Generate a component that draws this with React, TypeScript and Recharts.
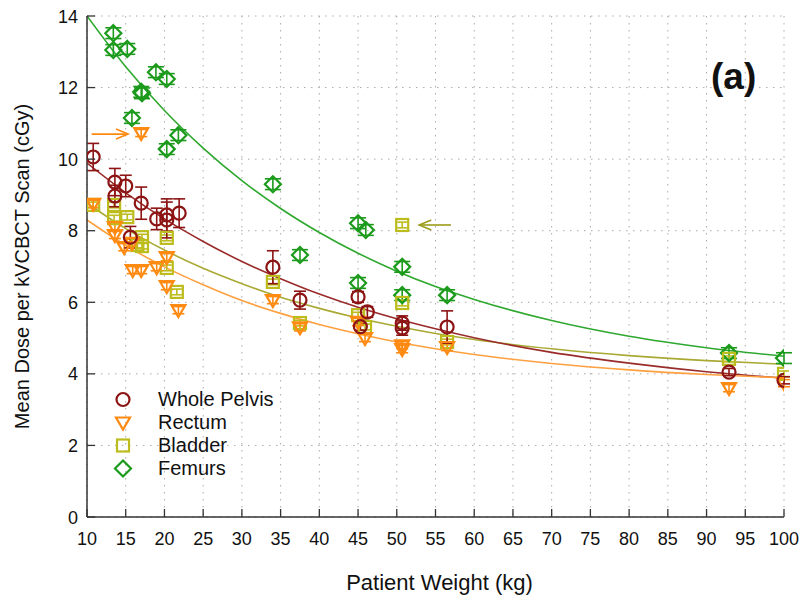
import { ComposedChart, Line, Scatter, ErrorBar, XAxis, YAxis, CartesianGrid, ReferenceLine } from 'recharts'

document.body.style.margin = '0'

const FONT = '"Liberation Sans", Arial, sans-serif'

const xTicks = [10, 15, 20, 25, 30, 35, 40, 45, 50, 55, 60, 65, 70, 75, 80, 85, 90, 95, 100]
const yTicks = [0, 2, 4, 6, 8, 10, 12, 14]

// measured points: [weight kg, dose cGy, error]
const pelvisPts = [
  [10.8, 10.06, 0.38], [13.6, 9.36, 0.38], [13.6, 8.97, 0.3], [15.0, 9.25, 0.3], [15.6, 7.82, 0.3],
  [17.0, 8.77, 0.45], [19.0, 8.33, 0.3], [20.3, 8.44, 0.45], [20.3, 8.3, 0.5], [21.9, 8.49, 0.4],
  [34.0, 6.98, 0.46], [37.5, 6.06, 0.25], [45.0, 6.15, 0.15], [45.3, 5.32, 0.1], [46.2, 5.73, 0.15],
  [50.7, 5.42, 0.2], [50.7, 5.28, 0.2], [56.5, 5.31, 0.45], [92.9, 4.05, 0.1], [100, 3.82, 0.1],
]
const rectumPts = [
  [10.8, 8.75, 0.1], [13.6, 8.1, 0.1], [13.6, 7.88, 0.1], [14.8, 7.54, 0.1], [15.8, 7.66, 0.1],
  [15.9, 6.9, 0.1], [17.0, 6.9, 0.1], [17.0, 10.73, 0.1], [19.0, 6.98, 0.1], [20.3, 7.26, 0.1],
  [20.3, 6.45, 0.1], [21.8, 5.78, 0.1], [34.0, 6.06, 0.1], [37.5, 5.3, 0.1], [45.0, 5.45, 0.1],
  [45.9, 5.0, 0.1], [50.7, 4.69, 0.1], [50.7, 4.8, 0.1], [56.5, 4.75, 0.1], [92.9, 3.6, 0.1], [100, 3.74, 0.1],
]
const bladderPts = [
  [10.8, 8.72, 0.08], [13.5, 8.72, 0.08], [13.5, 8.35, 0.08], [15.2, 8.38, 0.08], [16.5, 7.6, 0.08],
  [17.1, 7.82, 0.08], [17.1, 7.57, 0.08], [20.3, 7.8, 0.08], [20.3, 6.96, 0.08], [21.6, 6.29, 0.08],
  [34.0, 6.57, 0.08], [37.5, 5.42, 0.08], [45.0, 5.64, 0.08], [45.9, 5.31, 0.08], [50.7, 5.98, 0.08],
  [50.7, 8.16, 0.08], [56.5, 4.89, 0.08], [92.9, 4.42, 0.08], [100, 4.0, 0.08],
]
const femurPts = [
  [13.4, 13.52, 0.15], [13.4, 13.05, 0.15], [15.2, 13.08, 0.15], [15.8, 11.15, 0.15], [17.0, 11.88, 0.15],
  [17.1, 11.84, 0.15], [18.9, 12.43, 0.15], [20.3, 12.24, 0.15], [20.3, 10.28, 0.15], [21.8, 10.67, 0.15],
  [34.0, 9.3, 0.15], [37.5, 7.32, 0.15], [45.0, 8.21, 0.15], [46.0, 8.02, 0.15], [45.0, 6.54, 0.15],
  [50.7, 6.99, 0.15], [50.7, 6.2, 0.15], [56.5, 6.2, 0.15], [92.9, 4.58, 0.15], [100, 4.44, 0.15],
]

// fitted curves, sampled along the weight axis
const fitX = [10, 15, 20, 25, 30, 35, 40, 45, 50, 55, 60, 70, 80, 90, 100]
const pelvisFit = [9.89, 9.06, 8.33, 7.7, 7.14, 6.66, 6.23, 5.86, 5.54, 5.26, 5.01, 4.6, 4.3, 4.06, 3.88]
const rectumFit = [8.3, 7.59, 6.99, 6.49, 6.05, 5.69, 5.38, 5.12, 4.89, 4.7, 4.54, 4.29, 4.11, 3.98, 3.89]
const bladderFit = [8.77, 8.06, 7.46, 6.95, 6.52, 6.14, 5.83, 5.56, 5.33, 5.13, 4.96, 4.7, 4.51, 4.37, 4.27]
const femurFit = [14.0, 12.58, 11.36, 10.31, 9.4, 8.62, 7.95, 7.37, 6.87, 6.44, 6.08, 5.49, 5.05, 4.73, 4.49]

const C = {
  pelvis: '#8c1414', pelvisLine: '#9a2b2b',
  rectum: '#ff8a12', rectumLine: '#ffa040',
  bladder: '#bcbc1c', bladderLine: '#a9a934',
  femur: '#1c9a1c', femurLine: '#2ea82e',
}

const toPts = (pts: number[][]) => pts.map(([x, y, e]) => ({ x, y, e }))
const toFit = (ys: number[]) => fitX.map((x, i) => ({ x, y: ys[i] }))

const circle = (color: string) => (p: any) => (
  <circle cx={p.cx} cy={p.cy} r={6.5} fill="none" stroke={color} strokeWidth={2.2} />
)
const triDown = (color: string) => (p: any) => (
  <path d={`M${p.cx - 7},${p.cy - 5} L${p.cx + 7},${p.cy - 5} L${p.cx},${p.cy + 7} Z`} fill="none" stroke={color} strokeWidth={2.2} strokeLinejoin="miter" />
)
const square = (color: string) => (p: any) => (
  <rect x={p.cx - 6} y={p.cy - 6} width={12} height={12} fill="none" stroke={color} strokeWidth={2.2} />
)
const diamond = (color: string) => (p: any) => (
  <path d={`M${p.cx},${p.cy - 8} L${p.cx + 8},${p.cy} L${p.cx},${p.cy + 8} L${p.cx - 8},${p.cy} Z`} fill="none" stroke={color} strokeWidth={2.2} />
)

const arrow = (color: string) => (p: any) => {
  const { x1, y1, x2, y2 } = p
  const d = Math.sign(x2 - x1)
  return (
    <g>
      <line x1={x1} y1={y1} x2={x2} y2={y2} stroke={color} strokeWidth={1.6} />
      <polyline points={`${x2 - d * 12},${y2 - 5} ${x2},${y2} ${x2 - d * 12},${y2 + 5}`} fill="none" stroke={color} strokeWidth={1.6} />
    </g>
  )
}

const AX = '#333'

function BottomTick({ x, y, payload }: any) {
  return (
    <g>
      <line x1={x} y1={y} x2={x} y2={y - 8} stroke={AX} strokeWidth={1.3} />
      <text x={x} y={y + 28} textAnchor="middle" fontSize={18} fontFamily={FONT} fill="#111">{payload.value}</text>
    </g>
  )
}
function TopTick({ x, y }: any) {
  return <line x1={x} y1={y} x2={x} y2={y + 8} stroke={AX} strokeWidth={1.3} />
}
function LeftTick({ x, y, payload }: any) {
  return (
    <g>
      <line x1={x} y1={y} x2={x + 8} y2={y} stroke={AX} strokeWidth={1.3} />
      <text x={x - 9} y={y + 6.5} textAnchor="end" fontSize={18} fontFamily={FONT} fill="#111">{payload.value}</text>
    </g>
  )
}
function RightTick({ x, y }: any) {
  return <line x1={x} y1={y} x2={x - 8} y2={y} stroke={AX} strokeWidth={1.3} />
}

const legendItems = [
  { name: 'Whole Pelvis', color: C.pelvis, mark: circle },
  { name: 'Rectum', color: C.rectum, mark: triDown },
  { name: 'Bladder', color: C.bladder, mark: square },
  { name: 'Femurs', color: C.femur, mark: diamond },
]

export default function App() {
  return (
    <div style={{ position: 'relative', width: 801, height: 597, background: '#fff', fontFamily: FONT }}>
      <ComposedChart width={801} height={597} margin={{ top: 16, right: 17, bottom: 40, left: 40 }}>
        <CartesianGrid stroke="#aaa" strokeDasharray="1.5 5.5" />
        <XAxis
          dataKey="x" type="number" domain={[10, 100]} ticks={xTicks} allowDataOverflow
          height={40} tickSize={0} tickMargin={0} tick={<BottomTick />}
          axisLine={{ stroke: AX, strokeWidth: 1.5 }}
          label={{
            content: (p: any) => (
              <text x={p.viewBox.x + p.viewBox.width / 2 + 4} y={p.viewBox.y + 73} textAnchor="middle" fontSize={22} fontFamily={FONT} fill="#111">
                Patient Weight (kg)
              </text>
            ),
          }}
        />
        <XAxis
          xAxisId="top" orientation="top" type="number" domain={[10, 100]} ticks={xTicks} allowDataOverflow
          height={0} tickSize={0} tickMargin={0} tick={<TopTick />} axisLine={{ stroke: AX, strokeWidth: 1.5 }}
        />
        <YAxis
          dataKey="y" type="number" domain={[0, 14]} ticks={yTicks} allowDataOverflow
          width={47} tickSize={0} tickMargin={0} tick={<LeftTick />}
          axisLine={{ stroke: AX, strokeWidth: 1.5 }}
          label={{
            content: (p: any) => {
              const cy = p.viewBox.y + p.viewBox.height / 2
              return (
                <text x={22} y={cy} transform={`rotate(-90, 22, ${cy})`} textAnchor="middle" dominantBaseline="central" fontSize={20} fontFamily={FONT} fill="#111">
                  Mean Dose per kVCBCT Scan (cGy)
                </text>
              )
            },
          }}
        />
        <YAxis
          yAxisId="right" orientation="right" type="number" domain={[0, 14]} ticks={yTicks} allowDataOverflow
          width={0} tickSize={0} tickMargin={0} tick={<RightTick />} axisLine={{ stroke: AX, strokeWidth: 1.5 }}
        />

        <Line data={toFit(femurFit)} dataKey="y" type="monotone" stroke={C.femurLine} strokeWidth={1.6} dot={false} isAnimationActive={false} />
        <Line data={toFit(bladderFit)} dataKey="y" type="monotone" stroke={C.bladderLine} strokeWidth={1.6} dot={false} isAnimationActive={false} />
        <Line data={toFit(pelvisFit)} dataKey="y" type="monotone" stroke={C.pelvisLine} strokeWidth={1.6} dot={false} isAnimationActive={false} />
        <Line data={toFit(rectumFit)} dataKey="y" type="monotone" stroke={C.rectumLine} strokeWidth={1.6} dot={false} isAnimationActive={false} />

        <Scatter data={toPts(femurPts)} dataKey="y" shape={diamond(C.femur)} isAnimationActive={false}>
          <ErrorBar dataKey="e" direction="y" width={8} stroke={C.femur} strokeWidth={1.6} />
        </Scatter>
        <Scatter data={toPts(bladderPts)} dataKey="y" shape={square(C.bladder)} isAnimationActive={false}>
          <ErrorBar dataKey="e" direction="y" width={5} stroke={C.bladder} strokeWidth={1.6} />
        </Scatter>
        <Scatter data={toPts(rectumPts)} dataKey="y" shape={triDown(C.rectum)} isAnimationActive={false}>
          <ErrorBar dataKey="e" direction="y" width={6} stroke={C.rectum} strokeWidth={1.6} />
        </Scatter>
        <Scatter data={toPts(pelvisPts)} dataKey="y" shape={circle(C.pelvis)} isAnimationActive={false}>
          <ErrorBar dataKey="e" direction="y" width={6} stroke={C.pelvis} strokeWidth={1.6} />
        </Scatter>

        <ReferenceLine segment={[{ x: 10.6, y: 10.7 }, { x: 15.3, y: 10.7 }]} ifOverflow="visible" shape={arrow(C.rectum)} />
        <ReferenceLine segment={[{ x: 57.0, y: 8.16 }, { x: 52.9, y: 8.16 }]} ifOverflow="visible" shape={arrow('#9c9c1c')} />
      </ComposedChart>

      <div style={{ position: 'absolute', left: 711, top: 55, fontSize: 37, fontWeight: 'bold', color: '#111', lineHeight: '44px' }}>(a)</div>

      <div style={{ position: 'absolute', left: 110, top: 388 }}>
        {legendItems.map((it) => (
          <div key={it.name} style={{ display: 'flex', alignItems: 'center', height: 23 }}>
            <svg width={26} height={23}>{it.mark(it.color)({ cx: 13, cy: 11.5 })}</svg>
            <span style={{ marginLeft: 22, fontSize: 20, color: '#111' }}>{it.name}</span>
          </div>
        ))}
      </div>
    </div>
  )
}
